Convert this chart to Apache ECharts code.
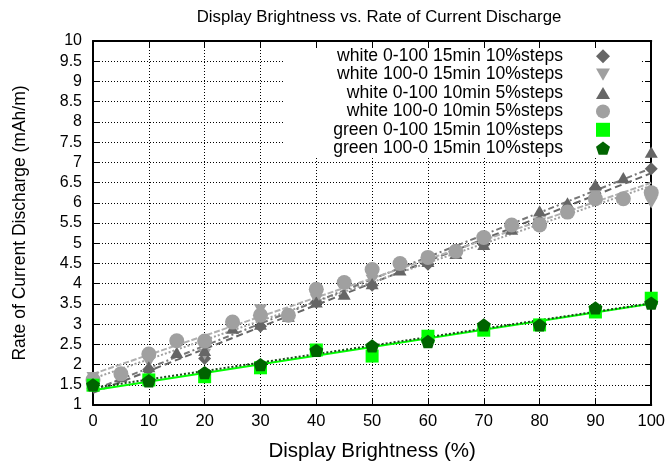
<!DOCTYPE html>
<html>
<head>
<meta charset="utf-8">
<script src="https://cdn.jsdelivr.net/npm/echarts@6/dist/echarts.min.js"></script>
<style>html,body{margin:0;padding:0;background:#fff}#c{width:668px;height:468px}</style>
</head>
<body>
<div id="c"></div>
<script>
// ---- data ----
const x10 = [0,10,20,30,40,50,60,70,80,90,100];
const x5 = [0,5,10,15,20,25,30,35,40,45,50,55,60,65,70,75,80,85,90,95,100];
const seriesNames = [
  'white 0-100 15min 10%steps',
  'white 100-0 15min 10%steps',
  'white 0-100 10min 5%steps',
  'white 100-0 10min 5%steps',
  'green 0-100 15min 10%steps',
  'green 100-0 15min 10%steps'
];
const white0to100_15 = [1.5,1.88,2.15,2.95,3.54,3.96,4.48,4.97,5.55,6.35,6.84];
const white100to0_15 = [1.68,2.05,2.25,3.35,3.6,4.08,4.6,5.1,5.5,6.2,6.0];
const white0to100_10 = [1.55,1.7,1.95,2.3,2.35,2.9,3.0,3.2,3.55,3.74,4.0,4.34,4.55,4.75,4.97,5.35,5.8,6.0,6.45,6.62,7.25];
const white100to0_10 = [1.62,1.77,2.26,2.59,2.58,3.05,3.22,3.22,3.86,4.03,4.35,4.5,4.65,4.8,5.14,5.45,5.45,5.77,6.1,6.1,6.25];
const green0to100_15 = [1.49,1.62,1.7,1.92,2.36,2.21,2.7,2.85,2.98,3.3,3.64];
const green100to0_15 = [1.5,1.6,1.8,2.0,2.35,2.46,2.57,2.98,2.98,3.4,3.52];
const yTicks = [1,1.5,2,2.5,3,3.5,4,4.5,5,5.5,6,6.5,7,7.5,8,8.5,9,9.5,10];

// ---- styling ----
const DIAMOND = 'path://M1,0 L2,1 L1,2 L0,1 Z';
const PENT = 'path://M1,0 L2,0.73 L1.62,1.9 L0.38,1.9 L0,0.73 Z';
const TRI_UP = 'path://M1,0 L2,1.73 L0,1.73 Z';
const TRI_DN = 'path://M0,0 L2,0 L1,1.73 Z';

const sets = [
  {x:x10, y:white0to100_15, sym:DIAMOND, size:13, color:'#666666', line:{color:'#666666', type:[7,4], width:2}},
  {x:x10, y:white100to0_15, sym:TRI_DN, size:13, color:'#a0a0a0', line:{color:'#a0a0a0', type:[2,2], width:2}},
  {x:x5, y:white0to100_10, sym:TRI_UP, size:13, color:'#666666', line:{color:'#777777', type:[6,3,2,3], width:2}},
  {x:x5, y:white100to0_10, sym:'circle', size:15, color:'#a0a0a0', line:{color:'#b0b0b0', type:[6,2], width:2}},
  {x:x10, y:green0to100_15, sym:'rect', size:13, color:'#00ff00', line:{color:'#00ff00', type:'solid', width:2}},
  {x:x10, y:green100to0_15, sym:PENT, size:14, color:'#006400', line:{color:'#1a4a1a', type:[2,2], width:2}}
];

function fit(xs, ys){
  const n = xs.length;
  let sx=0, sy=0, sxx=0, sxy=0;
  for(let i=0;i<n;i++){sx+=xs[i];sy+=ys[i];sxx+=xs[i]*xs[i];sxy+=xs[i]*ys[i];}
  const a = (n*sxy - sx*sy)/(n*sxx - sx*sx);
  const b = (sy - a*sx)/n;
  return [[0,b],[100,a*100+b]];
}

const series = [];
sets.forEach((s, i) => {
  series.push({
    type:'line', name:'fit'+i, data: fit(s.x, s.y), symbol:'none', silent:true,
    lineStyle: s.line, z: 2, animation:false
  });
});
sets.forEach((s, i) => {
  series.push({
    type:'scatter', name: seriesNames[i], data: s.x.map((v,k)=>[v, s.y[k]]),
    symbol: s.sym, symbolSize: s.size, symbolKeepAspect:true,
    itemStyle:{color:s.color, opacity:1}, z: 3 + i, animation:false
  });
});

const chart = echarts.init(document.getElementById('c'), null, {renderer:'canvas'});
const FONT = 'Liberation Sans';
const gridStyle = {show:true, lineStyle:{color:'#000', type:[1,2], width:1}};
chart.setOption({
  backgroundColor:'#fff',
  animation:false,
  textStyle:{fontFamily:FONT},
  title:{text:'Display Brightness vs. Rate of Current Discharge', left:374, top:4, textAlign:'center',
    textStyle:{fontFamily:FONT, fontSize:16.8, fontWeight:'normal', color:'#000'}},
  grid:{left:93, right:16, top:41, bottom:63},
  graphic:[{type:'rect', shape:{x:283, y:48, width:358, height:110}, style:{fill:'#fff'}, z:1, silent:true}],
  legend:{
    data: seriesNames, orient:'vertical', align:'right', right:53, top:42,
    itemWidth:14, itemHeight:14, itemGap:0, symbolKeepAspect:true,
    textStyle:{fontFamily:FONT, fontSize:17.6, color:'#000', lineHeight:18.4, padding:[0,28,0,0]},
    z: 10, selectedMode:false
  },
  xAxis:[
    {type:'value', min:0, max:100, interval:10, position:'bottom',
     name:'Display Brightness (%)', nameLocation:'middle', nameGap:36,
     nameTextStyle:{fontFamily:FONT, fontSize:20.5, color:'#000'},
     axisLine:{show:true, onZero:false, lineStyle:{color:'#000', width:2}},
     axisTick:{show:true, inside:true, length:6, lineStyle:{color:'#000'}},
     axisLabel:{fontFamily:FONT, fontSize:16.5, color:'#000', margin:8},
     splitLine:gridStyle},
    {type:'value', min:0, max:100, interval:10, position:'top',
     axisLine:{show:true, onZero:false, lineStyle:{color:'#000', width:2}},
     axisTick:{show:true, inside:true, length:6, lineStyle:{color:'#000'}},
     axisLabel:{show:false}, splitLine:{show:false}}
  ],
  yAxis:[
    {type:'value', min:1, max:10, interval:0.5, position:'left',
     name:'Rate of Current Discharge (mAh/m)', nameLocation:'middle', nameGap:64,
     nameTextStyle:{fontFamily:FONT, fontSize:17.5, color:'#000'},
     axisLine:{show:true, onZero:false, lineStyle:{color:'#000', width:2}},
     axisTick:{show:true, inside:true, length:6, lineStyle:{color:'#000'}},
     axisLabel:{fontFamily:FONT, fontSize:16, color:'#000', margin:11,
       formatter: v => String(yTicks.find(t => Math.abs(t-v)<1e-9) ?? v)},
     splitLine:gridStyle},
    {type:'value', min:1, max:10, interval:0.5, position:'right',
     axisLine:{show:true, onZero:false, lineStyle:{color:'#000', width:2}},
     axisTick:{show:true, inside:true, length:6, lineStyle:{color:'#000'}},
     axisLabel:{show:false}, splitLine:{show:false}}
  ],
  series: series
});
</script>
</body>
</html>
